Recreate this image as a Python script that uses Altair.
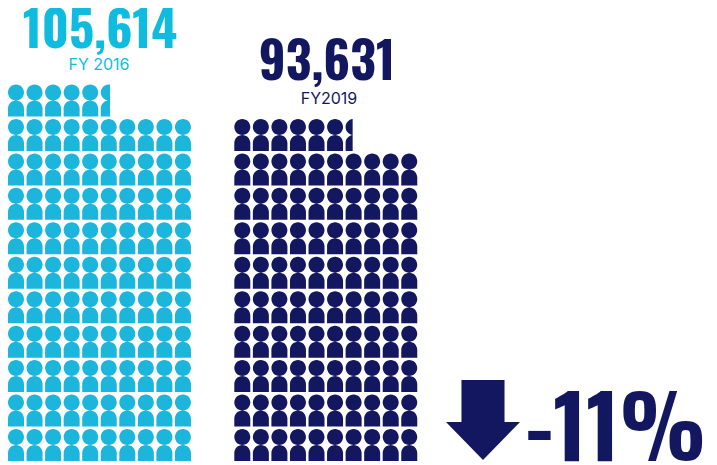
import math
import altair as alt
import pandas as pd

W, H = 701, 457
PITCH_X, PITCH_Y = 18.55, 34.45
ORIGIN_X, ORIGIN_Y = 8, 437

fy2016_icons_per_row = [10, 10, 10, 10, 10, 10, 10, 10, 10, 10, 5.58]
fy2019_icons_per_row = [10, 10, 10, 10, 10, 10, 10, 10, 10, 6.44]
group_col_offset = [0, 12.2]
group_colors = ["#1CB5DC", "#131760"]
headlines = ["105,614", "93,631"]
year_labels = ["FY 2016", "FY2019"]
headline_color = ["#0FBCE0", "#131760"]
change_label = "-11%"

R = 0.25
FULL = (f"M{-R} {-R}A{R} {R} 0 1 1 {R} {-R}A{R} {R} 0 1 1 {-R} {-R}Z"
        f"M{-R} 0.5V{R}A{R} {R} 0 0 1 {R} {R}V0.5Z")


def clipped_person(frac):
    c = frac * 2 * R - R
    d = math.sqrt(R * R - c * c)
    large = 1 if c > 0 else 0
    return (f"M{c:.4f} {-R - d:.4f}A{R} {R} 0 {large} 0 {c:.4f} {-R + d:.4f}Z"
            f"M{-R} 0.5V{R}A{R} {R} 0 0 1 {c:.4f} {R - d:.4f}V0.5H{-R}Z")


ARROW = "M-0.269 -0.5H0.269V0.025H0.4625L0 0.5L-0.4625 0.025H-0.269Z"

xs = alt.Scale(domain=[-ORIGIN_X / PITCH_X, (W - ORIGIN_X) / PITCH_X])
ys = alt.Scale(domain=[-(H - ORIGIN_Y) / PITCH_Y, ORIGIN_Y / PITCH_Y])
ICON_SIZE = 4096


def person_layers(rows, offset, color):
    full, partial = [], []
    for r, n in enumerate(rows):
        whole = int(n)
        full += [{"col": c + offset, "row": r} for c in range(whole)]
        if n > whole:
            partial.append({"col": whole + offset, "row": r, "frac": n - whole})
    enc = dict(x=alt.X("col:Q", scale=xs, axis=None), y=alt.Y("row:Q", scale=ys, axis=None))
    out = [alt.Chart(pd.DataFrame(full)).mark_point(
        shape=FULL, size=ICON_SIZE, filled=True, strokeWidth=0, opacity=1, color=color).encode(**enc)]
    for p in partial:
        out.append(alt.Chart(pd.DataFrame([p])).mark_point(
            shape=clipped_person(p["frac"]), size=ICON_SIZE, filled=True, strokeWidth=0,
            opacity=1, color=color).encode(**enc))
    return out


def label(text, x, y, size, color, font, bold=False, align="center"):
    return alt.Chart(pd.DataFrame({"t": [text]})).mark_text(
        font=font, fontSize=size, fontWeight="bold" if bold else "normal", color=color,
        align=align, baseline="alphabetic",
    ).encode(text="t:N", x=alt.value(x), y=alt.value(y))


layers = []
layers += person_layers(fy2016_icons_per_row, group_col_offset[0], group_colors[0])
layers += person_layers(fy2019_icons_per_row, group_col_offset[1], group_colors[1])
HEAD = "Oswald"
layers += [
    label(headlines[0], 92, 40, 49.5, headline_color[0], HEAD, True),
    label(year_labels[0], 91, 62, 16, headline_color[0], "Inter"),
    label(headlines[1], 319, 72, 50, headline_color[1], HEAD, True),
    label(year_labels[1], 321, 96, 16, headline_color[1], "Inter"),
    label(change_label, 698, 453, 86, headline_color[1], HEAD, True, "right"),
    alt.Chart(pd.DataFrame({"k": ["arrow"]})).mark_point(
        shape=ARROW, size=25600, filled=True, strokeWidth=0, opacity=1, color=group_colors[1]
    ).encode(x=alt.value(475), y=alt.value(412)),
]

chart = alt.layer(*layers).properties(width=W, height=H, padding=0).configure_view(stroke=None)
chart.save("out.html", embed_options={"renderer": "svg", "actions": False})
